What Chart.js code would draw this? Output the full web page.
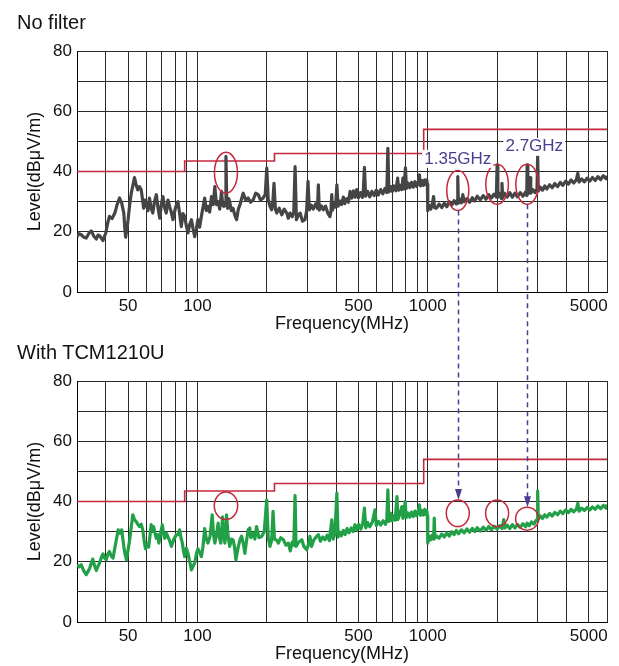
<!DOCTYPE html>
<html>
<head>
<meta charset="utf-8">
<script src="https://cdn.jsdelivr.net/npm/chart.js@4.4.0/dist/chart.umd.min.js"></script>
<style>
  body { margin: 0; background: #fff; }
  #wrap { position: relative; width: 619px; height: 666px; font-family: "Liberation Sans", Arial, sans-serif; }
  .panel-title { position: absolute; left: 17px; font-size: 20px; line-height: 20px; color: #111; }
  canvas { position: absolute; left: 0; }
</style>
</head>
<body>
<div id="wrap">
  <canvas id="topChart" width="619" height="336" style="top:0"></canvas>
  <canvas id="bottomChart" width="619" height="336" style="top:330px"></canvas>
  <canvas id="arrows" width="619" height="666" style="top:0"></canvas>
  <div class="panel-title" style="top:12px">No filter</div>
  <div class="panel-title" style="top:342px">With TCM1210U</div>
</div>
<script>
// [frequency MHz, level dBuV/m]
const noFilterTrace = [
  [30,18.4],[30.6,19.4],[31.3,19.0],[32.1,18.2],[32.9,17.9],[33.8,19.5],[34.6,20.3],[35.5,18.5],[36.4,17.6],[37,18.9],
  [37.6,18.7],[38.3,17.8],[38.9,17.1],[39.5,18.5],[40,19.6],[40.8,23],[41.5,25.1],[42.6,24.4],[43.8,26.2],[44.8,29],
  [45.9,31.2],[46.9,29.5],[47.9,26.2],[48.4,21],[48.8,18.2],[49.4,21],[50,24],[50.8,29],[51.6,32.8],[52.5,35.5],
  [53.3,38],[54.2,35.5],[55.1,33.9],[56,35],[57,33.9],[57.7,31],[58.4,27.8],[59.2,30.5],[60.1,28.9],[61,27],
  [61.9,31.2],[62.9,28],[64,26.2],[65.1,30],[66.3,32.3],[67.4,28],[68.6,24.5],[69.7,29],[70.8,31.7],[72,28],
  [73.2,26.2],[74.5,30.5],[75.7,28.4],[77,26.5],[78.3,24],[80.3,28],[82.3,30],[83.7,26],[85.1,21.7],[86.5,26],
  [88,25.1],[89.5,22],[91,19.6],[92.6,22.5],[94.2,24],[95.7,21],[97.3,18.4],[98.9,21],[100.5,24],[102.2,21.5],
  [104,25.1],[105.7,28],[107.5,31.2],[109.3,27],[111.1,28.4],[113,26.5],[115.1,31.7],[117,29],[119,35],[121,29],
  [123,30],[125,27.5],[127.2,33.4],[128.7,29],[130.2,28.4],[131.8,29.5],[133,45],[134.1,29],[135.2,27.8],[136.6,31],
  [138,30],[140.3,27],[142.7,27.8],[145.3,25.5],[147.9,24],[150.5,27.5],[153,28.9],[155.5,31],[158,32.8],[162,30.5],
  [166,31.2],[170,29.8],[174.6,30.6],[179,32.8],[183.6,32.3],[188,30.5],[193,31.2],[197,32.4],[200,41.1],[203,30.6],
  [206.5,28.5],[210,27.3],[212.5,30],[215,36.1],[218,27.5],[221,26.2],[226.5,27.8],[232.4,25.6],[238,27.5],[244.3,26.2],
  [248,24.5],[252.5,26.2],[258,25],[262,26.5],[265.4,41.6],[269,24],[274,25.5],[279,26.2],[286,23.5],[293,24],
  [298,27],[302,36.7],[306,27.3],[312,28.8],[318,27.5],[326,29.2],[332,27.8],[335,35.6],[338,27.2],[345,28.6],
  [352,27.3],[360,28.5],[368,26.2],[376,25],[380,27],[383,32.3],[386,27.2],[393,29.5],[398,28.2],[403,35.6],
  [408,28.5],[415,30.2],[422,29],[430,31.5],[436,29.3],[445,31],[452,29.8],[460,33.4],[468,31.2],[476,33.6],
  [484,31.5],[492,34],[500,31.3],[510,33],[520,31.4],[525,33.5],[531,41.4],[537,31.8],[548,33.4],[560,31.6],
  [572,33.4],[585,32],[598,33.8],[610,32.2],[624,34],[638,32.6],[652,34.4],[664,33],[671,47.7],[678,33.2],
  [690,35],[702,33.4],[715,35.2],[728,33.6],[740,37.8],[748,33.8],[760,35.4],[772,34],[780,37.8],[788,34.2],
  [800,41.2],[808,34.4],[820,36.2],[835,34.6],[850,36.4],[865,34.8],[880,36.6],[895,35],[910,36.6],[920,38.9],
  [930,35.2],[945,37],[958,35.4],[970,37.2],[982,35.8],[990,37.2],[996,35.8],[1000,27],[1015,28.8],[1030,27.5],
  [1045,29],[1060,31.7],[1070,28],[1090,27.8],[1120,29.2],[1150,28],[1180,29.5],[1210,28.3],[1240,30],[1270,28.8],
  [1300,30.3],[1330,29.2],[1343,30.5],[1350,38.3],[1358,29.5],[1380,30.8],[1400,29.6],[1420,32.3],[1440,30],[1480,31],
  [1520,29.8],[1560,31.3],[1600,30.2],[1640,31.8],[1690,30.6],[1740,32],[1790,30.8],[1840,32.3],[1890,31.2],[1940,32.5],
  [1985,31.5],[2000,42.2],[2015,31.5],[2050,32.8],[2090,31],[2100,36.1],[2115,31.3],[2150,32.8],[2210,31.5],[2270,33],
  [2330,31.5],[2390,32.8],[2450,31.6],[2520,33],[2590,31.8],[2660,33.2],[2690,32],[2700,42.2],[2720,32.5],[2760,33.5],
  [2780,38],[2800,32.8],[2860,34],[2920,33],[2980,34.2],[3000,45],[3020,33.5],[3080,34.8],[3150,33.8],[3220,35.2],
  [3290,34.2],[3380,35.6],[3470,34.6],[3560,36],[3660,35],[3760,36.4],[3860,35.4],[3970,36.8],[4080,35.8],[4190,37.2],
  [4300,36.2],[4420,37.3],[4480,39.4],[4540,36.5],[4660,37.5],[4790,36.6],[4920,37.8],[5050,36.8],[5190,38],[5330,37],
  [5480,38.3],[5630,37.3],[5780,38.6],[5940,37.6],[6000,38.6]
];

const tcmTrace = [
  [30,19],[30.6,18.3],[31.3,19],[32.1,17],[32.9,15.7],[33.5,16.8],[34.1,17.9],[34.6,19.5],[35.1,20.9],[35.8,18.5],
  [36.4,17.1],[37,18.5],[37.6,19.6],[38.3,21.5],[38.9,22.6],[39.5,21.2],[40.2,20.7],[40.8,22.5],[41.5,23.4],[42.2,22],
  [43,21.2],[44,25.5],[45.3,30.6],[46.1,29.5],[46.9,30.6],[47.9,25.1],[48.5,22.5],[49.2,20.6],[50,24],[50.8,27.3],
  [51.6,31.5],[52.4,35.6],[53.3,34],[54.2,33.3],[55.1,32.4],[56,31.7],[57,32.5],[57.9,30.6],[58.7,27],[59.5,24.3],
  [60.5,26],[61.4,24.9],[62.2,28.5],[63,32.3],[63.7,30],[64.5,31.7],[65.4,29.5],[66.3,27.8],[67.2,29],[68,26.2],
  [69.2,29.5],[70.4,32.3],[71.2,29.5],[72.1,27.8],[73.2,29.5],[74.4,28.3],[75.7,27],[77.1,25.1],[79,27.5],[81,28.9],
  [82.3,29],[83.7,30.6],[84.8,28],[86,26.2],[87,23.5],[88,21.7],[89.5,24.5],[91,22.8],[92.6,20],[94.2,17.3],
  [95.7,18.5],[97.3,19.6],[98.9,22.5],[100.5,24.3],[102.2,23],[104,21.7],[105.7,25],[107.5,31],[109.3,27.5],[111.1,26.2],
  [113.5,28.5],[115.9,35.6],[117.5,29],[119,26.2],[121,29],[123,32.8],[124.6,28],[126.3,26.2],[127.4,30],[128.5,34.9],
  [130,29],[131.5,26.2],[132.7,29],[133.8,35.6],[136,28],[138.1,25.1],[140.4,27.5],[142.7,27.3],[144.8,25],[146.9,20.6],
  [150,24.5],[153,27.3],[155.5,28.5],[158,26.2],[160.7,22.8],[163.4,27],[166.1,30.6],[168.7,31.2],[170.5,28],[174.6,29.5],
  [177.6,27.5],[180.6,31.7],[185,28],[190,28.4],[195,30],[199.8,40.5],[203,28],[206.5,25.1],[210,27],[213,36.7],
  [216,27.5],[220,27.3],[224.6,26.2],[230,28],[236.1,27.3],[242,25.5],[248.2,26.2],[253,23.6],[258,26.5],[262,25.5],
  [265.4,42],[268,25.1],[275,26.5],[283.9,27.3],[290,25],[298,24],[305,26.3],[308,28.4],[313,25.1],[320,27.2],
  [329,28.4],[335,29],[342,26.8],[350,28.2],[358,27.3],[366,28.8],[374,27],[383,33.9],[388,27.5],[395,29.2],
  [403,42.8],[408,28.2],[415,29.8],[422,28.6],[430,30.4],[438,29],[446,31],[455,29.6],[465,31.2],[474,30],
  [483,32.3],[492,30.5],[502,32.4],[512,30.8],[522,32.6],[531,37.8],[538,31.2],[548,33],[560,31.6],[575,33.2],
  [590,37.2],[598,32],[610,33.4],[625,32.2],[640,33.6],[655,32.4],[664,34],[671,43.9],[678,33.4],[690,36.1],
  [700,33.6],[712,35.2],[722,33.8],[735,41.6],[742,34],[755,35.6],[772,38.3],[780,34.4],[790,35.8],[798,40],
  [806,34.6],[820,36.2],[835,34.8],[850,36.5],[865,35],[880,36.8],[895,35.2],[910,36.8],[920,38.9],[930,35.4],
  [945,37],[958,35.5],[970,37.4],[982,35.8],[990,37],[996,35.2],[1000,26.2],[1015,28.5],[1030,27.3],[1045,28.8],
  [1060,27.5],[1067,34.5],[1075,27.8],[1090,28.6],[1120,27.8],[1150,29.2],[1180,28.2],[1210,29.6],[1240,28.5],[1270,30],
  [1300,29],[1330,30.4],[1360,29.3],[1400,30.6],[1440,29.6],[1480,30.9],[1520,29.8],[1560,31.1],[1600,30],[1640,31.3],
  [1690,30.2],[1740,31.5],[1790,30.4],[1840,31.7],[1890,30.6],[1940,31.8],[2000,30.8],[2050,32],[2100,31],[2136,34],
  [2160,31.2],[2210,32.2],[2270,31],[2330,32.3],[2390,31.2],[2450,32.4],[2520,31.4],[2590,32.6],[2660,31.6],[2700,32.8],
  [2760,32],[2820,33.2],[2890,32.5],[2960,33.8],[2990,33.5],[3000,43.5],[3020,34],[3080,35.2],[3150,34.4],[3220,35.6],
  [3290,34.8],[3380,36],[3470,35.2],[3560,36.4],[3660,35.6],[3760,36.8],[3860,36],[3970,37.2],[4080,36.3],[4190,37.4],
  [4300,36.6],[4420,37.5],[4480,39.4],[4540,36.8],[4660,37.8],[4790,37],[4920,38],[5050,37.2],[5190,38.2],[5330,37.4],
  [5480,38.5],[5630,37.6],[5780,38.7],[5940,37.8],[6000,39]
];

// stepped emission limit
const limitFreq = [30, 88, 216, 960, 6000];
const limitLevel = [40, 43.5, 46, 54, 54];

const xTickValues = [30, 40, 50, 60, 70, 80, 90, 100, 200, 300, 400, 500, 600, 700, 800, 900,
  1000, 2000, 3000, 4000, 5000, 6000];
const xTickLabels = [50, 100, 500, 1000, 5000];
const yTickLabels = [0, 20, 40, 60, 80];

// red rings [MHz, dB] and the callouts
const noFilterRings = [[133, 39.6], [1350, 33.7], [2000, 35.8], [2700, 35.8]];
const tcmRings = [[133, 38.6], [1350, 36.1], [2000, 36.1], [2700, 34.3]];
const callouts = [['1.35GHz', 1350, 44.2], ['2.7GHz', 2900, 48.2]];
const arrowFreqs = [1350, 2700];

const RED = '#c4283c';
const PURPLE = '#4a3c8e';
const GRID = '#2a2a2a';
const topRingSize = [[11.5, 20.5], [11, 20], [11.3, 20], [11.3, 20]];
const bottomRingSize = [[11.7, 13.8], [11.5, 13.3], [11.5, 13.3], [11.5, 11.5]];

Chart.defaults.font.family = '"Liberation Sans", Arial, sans-serif';
Chart.defaults.color = '#111';

function makeMarks(rings, sizes, notes) {
  return {
    id: 'marks',
    afterDatasetsDraw(chart) {
      const { ctx, scales: { x, y } } = chart;
      ctx.save();
      ctx.strokeStyle = RED;
      ctx.lineWidth = 1.5;
      rings.forEach(([f, v], i) => {
        ctx.beginPath();
        ctx.ellipse(x.getPixelForValue(f), y.getPixelForValue(v), sizes[i][0], sizes[i][1], 0, 0, Math.PI * 2);
        ctx.stroke();
      });
      ctx.font = '17px "Liberation Sans", Arial, sans-serif';
      ctx.textAlign = 'center';
      ctx.textBaseline = 'middle';
      notes.forEach(([text, f, v]) => {
        const px = x.getPixelForValue(f), py = y.getPixelForValue(v);
        const w = ctx.measureText(text).width + 4;
        ctx.fillStyle = '#fff';
        ctx.fillRect(px - w / 2, py - 9, w, 18);
        ctx.fillStyle = PURPLE;
        ctx.fillText(text, px, py);
      });
      ctx.restore();
    }
  };
}

function makeChart(id, trace, color, rings, sizes, notes) {
  return new Chart(document.getElementById(id), {
    type: 'line',
    data: {
      datasets: [
        {
          data: trace.map(([f, v]) => ({ x: f, y: v })),
          borderColor: color,
          borderWidth: 3.2,
          borderJoinStyle: 'round',
          pointRadius: 0,
          order: 1
        },
        {
          data: limitFreq.map((f, i) => ({ x: f, y: limitLevel[i] })),
          borderColor: RED,
          borderWidth: 1.6,
          pointRadius: 0,
          stepped: 'before',
          order: 2
        }
      ]
    },
    options: {
      responsive: false,
      animation: false,
      events: [],
      layout: { padding: { left: 0, right: 12, top: 51, bottom: 0 } },
      plugins: { legend: { display: false }, tooltip: { enabled: false } },
      scales: {
        x: {
          type: 'logarithmic',
          min: 30,
          max: 6000,
          afterBuildTicks: s => { s.ticks = xTickValues.map(v => ({ value: v })); },
          afterFit: s => { s.height = 44; },
          ticks: {
            autoSkip: false,
            maxRotation: 0,
            padding: 4,
            font: { size: 17 },
            callback: v => xTickLabels.includes(v) ? String(v) : ''
          },
          grid: { color: GRID, drawTicks: false },
          border: { color: '#000' },
          title: { display: true, text: 'Frequency(MHz)', font: { size: 18 }, padding: { top: 0, bottom: 1 } }
        },
        y: {
          min: 0,
          max: 80,
          afterFit: s => { s.width = 77; },
          ticks: {
            stepSize: 10,
            padding: 5,
            font: { size: 17 },
            callback: v => yTickLabels.includes(v) ? String(v) : ''
          },
          grid: { color: GRID, drawTicks: false },
          border: { color: '#000' },
          title: { display: true, text: 'Level(dBμV/m)', font: { size: 18 }, padding: { top: 24, bottom: 0 } }
        }
      }
    },
    plugins: [makeMarks(rings, sizes, notes)]
  });
}

const topChart = makeChart('topChart', noFilterTrace, '#454545', noFilterRings, topRingSize, callouts);
const bottomChart = makeChart('bottomChart', tcmTrace, '#22a047', tcmRings, bottomRingSize, []);

// dashed arrows from the rings in the top panel down to the bottom panel
function drawArrows() {
  const ctx = document.getElementById('arrows').getContext('2d');
  const off = document.getElementById('bottomChart').offsetTop;
  ctx.strokeStyle = PURPLE;
  ctx.fillStyle = PURPLE;
  ctx.lineWidth = 1.5;
  arrowFreqs.forEach(f => {
    const i = noFilterRings.findIndex(r => r[0] === f);
    const j = tcmRings.findIndex(r => r[0] === f);
    const px = Math.round(topChart.scales.x.getPixelForValue(f)) + 0.5;
    const y0 = topChart.scales.y.getPixelForValue(noFilterRings[i][1]) + topRingSize[i][1];
    const y1 = off + bottomChart.scales.y.getPixelForValue(tcmRings[j][1]) - bottomRingSize[j][1];
    ctx.setLineDash([5, 4]);
    ctx.beginPath();
    ctx.moveTo(px, y0);
    ctx.lineTo(px, y1 - 10);
    ctx.stroke();
    ctx.setLineDash([]);
    ctx.beginPath();
    ctx.moveTo(px - 3.5, y1 - 11);
    ctx.lineTo(px + 3.5, y1 - 11);
    ctx.lineTo(px, y1);
    ctx.closePath();
    ctx.fill();
  });
}
drawArrows();
</script>
</body>
</html>
